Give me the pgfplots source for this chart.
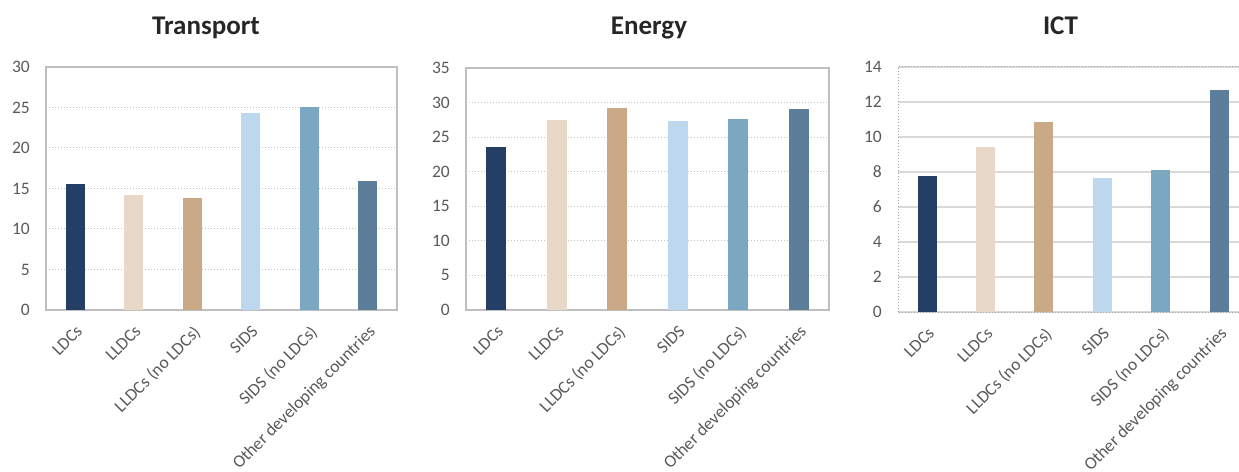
\documentclass[border=0pt]{standalone}
\usepackage{fontspec}
\setmainfont{Carlito}
\usepackage{pgfplots}
\pgfplotsset{compat=1.18}
\definecolor{cLDC}{HTML}{243F66}
\definecolor{cLLDC}{HTML}{E8D8C7}
\definecolor{cLLDCn}{HTML}{C9A988}
\definecolor{cSIDS}{HTML}{BDD7EE}
\definecolor{cSIDSn}{HTML}{7BA7C2}
\definecolor{cOther}{HTML}{5D7E9B}
\definecolor{tickgray}{HTML}{595959}
\definecolor{titlegray}{HTML}{262626}
\definecolor{frame}{HTML}{BFBFBF}
\definecolor{gridc}{HTML}{D9D9D9}
\pgfplotsset{
  base/.style={
    scale only axis,
    anchor=south west,
    xmin=-0.5, xmax=5.5,
    ymin=0,
    xtick={0,1,2,3,4,5},
    xticklabels={LDCs,LLDCs,LLDCs (no LDCs),SIDS,SIDS (no LDCs),Other developing countries},
    major tick length=0pt,
    /pgf/number format/assume math mode=true,
    tick label style={font=\fontsize{17.5}{20}\selectfont, text=tickgray},
    xticklabel style={xshift=0pt, yshift=-14pt, rotate=45, anchor=north east, inner sep=0pt},
    yticklabel style={anchor=east, inner sep=0pt, xshift=-16pt},
    ybar, bar width=19pt, bar shift=0pt,
    ymajorgrids,
  },
  frameA/.style={
    axis line style={frame, line width=1.3pt},
    grid style={gridc!75!gray, line width=1pt, dotted},
  },
  frameB/.style={
    axis line style={gray!70, line width=1pt, dotted},
    grid style={gridc, line width=1.8pt},
  },
}
\begin{document}
\begin{tikzpicture}
\useasboundingbox (0,0) rectangle (1239pt,471pt);
% Transport
\begin{axis}[base, frameA, at={(46pt,161pt)}, width=351pt, height=243pt,
  ymax=30, ytick={0,5,10,15,20,25,30}]
\addplot[fill=cLDC, draw=none] coordinates {(0,15.55)};
\addplot[fill=cLLDC, draw=none] coordinates {(1,14.18)};
\addplot[fill=cLLDCn, draw=none] coordinates {(2,13.80)};
\addplot[fill=cSIDS, draw=none] coordinates {(3,24.38)};
\addplot[fill=cSIDSn, draw=none] coordinates {(4,25.00)};
\addplot[fill=cOther, draw=none] coordinates {(5,15.92)};
\end{axis}
% Energy
\begin{axis}[base, frameA, at={(466pt,161pt)}, width=363pt, height=242pt,
  ymax=35, ytick={0,5,10,15,20,25,30,35}, bar width=20pt]
\addplot[fill=cLDC, draw=none] coordinates {(0,23.59)};
\addplot[fill=cLLDC, draw=none] coordinates {(1,27.50)};
\addplot[fill=cLLDCn, draw=none] coordinates {(2,29.23)};
\addplot[fill=cSIDS, draw=none] coordinates {(3,27.35)};
\addplot[fill=cSIDSn, draw=none] coordinates {(4,27.64)};
\addplot[fill=cOther, draw=none] coordinates {(5,29.09)};
\end{axis}
% ICT
\begin{axis}[base, frameB, at={(898pt,159pt)}, width=341pt, height=245pt,
  xmax=5.34, ymax=14, ytick={0,2,4,6,8,10,12,14}]
\addplot[fill=cLDC, draw=none] coordinates {(0,7.79)};
\addplot[fill=cLLDC, draw=none] coordinates {(1,9.45)};
\addplot[fill=cLLDCn, draw=none] coordinates {(2,10.83)};
\addplot[fill=cSIDS, draw=none] coordinates {(3,7.67)};
\addplot[fill=cSIDSn, draw=none] coordinates {(4,8.13)};
\addplot[fill=cOther, draw=none] coordinates {(5,12.67)};
\end{axis}
\node[font=\fontsize{27}{31}\selectfont\bfseries, text=titlegray, anchor=base] at (206pt,436pt) {Transport};
\node[font=\fontsize{27}{31}\selectfont\bfseries, text=titlegray, anchor=base] at (649pt,436pt) {Energy};
\node[font=\fontsize{27}{31}\selectfont\bfseries, text=titlegray, anchor=base] at (1060.5pt,436pt) {ICT};
\end{tikzpicture}
\end{document}
